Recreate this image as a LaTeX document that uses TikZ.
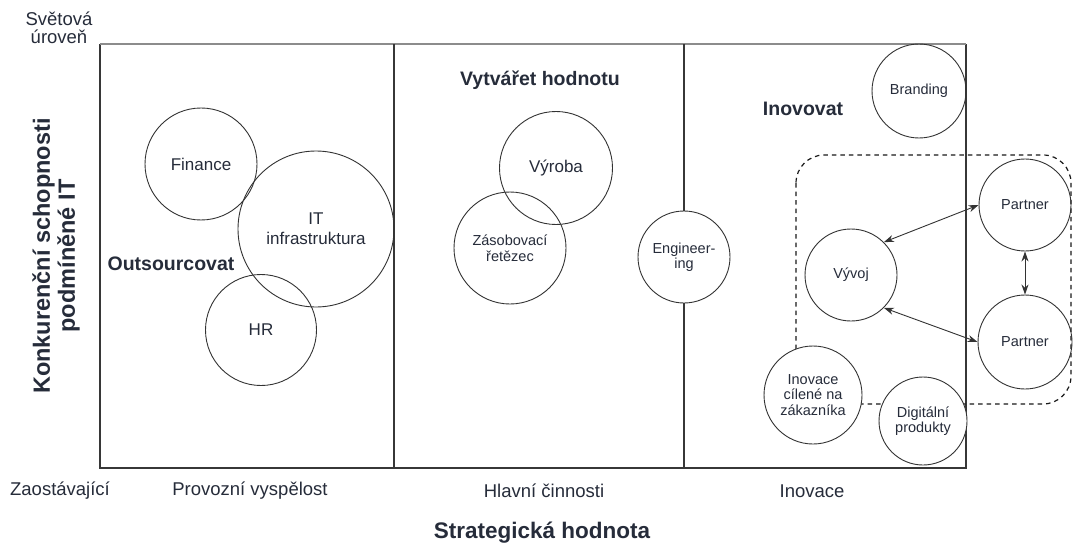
\documentclass[tikz,border=0pt]{standalone}
\usepackage{fontspec}
\setmainfont{Liberation Sans}
\usepackage{tikz}
\usetikzlibrary{positioning,arrows.meta}
\definecolor{inkText}{RGB}{38,44,58}
\definecolor{frameGray}{RGB}{55,55,55}

\begin{document}
\begin{tikzpicture}[x=1pt, y=1pt,
  bubble/.style={draw=black!80, circle, line width=0.9pt, inner sep=0pt, align=center, text=inkText, font=\fontsize{17}{20}\selectfont},
  smallbubble/.style={bubble, font=\fontsize{14.5}{15.5}\selectfont},
  axislabel/.style={font=\fontsize{18.5}{21}\selectfont, text=inkText, align=center},
  zonelabel/.style={font=\fontsize{19.5}{22}\selectfont\bfseries, text=inkText},
  titlelabel/.style={font=\fontsize{22.5}{25}\selectfont\bfseries, text=inkText, align=center},
  link/.style={<->, >={Stealth[length=10pt, width=7pt]}, line width=0.9pt, draw=black!80},
]

\fill[white] (0,0) rectangle (1075,-548);
\useasboundingbox (0,0) rectangle (1075,-548);

% ===================================================================
% FRAME with the three columns
% ===================================================================
\draw[line width=1.2pt, draw=frameGray] (100,-44) -- (100,-468) -- (966,-468) -- (966,-44);
\draw[line width=1.2pt, draw=black!45] (100,-44) -- (966,-44);
\foreach \xd in {394,684} {
  \draw[line width=1.1pt, draw=frameGray] (\xd,-44) -- (\xd,-468);
}

% Partner network (dashed)
\draw[dashed, dash pattern=on 4.5pt off 4pt, line width=1.2pt, draw=black!90, rounded corners=28pt]
  (796,-155) rectangle (1071,-404);

% ===================================================================
% AXES
% ===================================================================
\node[axislabel] (top) at (59,-28) {Světová\\[-3pt]úroveň};
\node[axislabel] (low) at (60,-491) {Zaostávající};
\node[axislabel] (colA) at (250,-491) {Provozní vyspělost};
\node[axislabel] (colB) at (544,-491) {Hlavní činnosti};
\node[axislabel] (colC) at (812,-491) {Inovace};
\node[titlelabel] (xaxis) at (542,-533) {Strategická hodnota};
\node[titlelabel, font=\fontsize{23.5}{25}\selectfont\bfseries, rotate=90] (yaxis) at (56,-256) {Konkurenční schopnosti\\podmíněné IT};

% ===================================================================
% COLUMN 1 -- outsourcing
% ===================================================================
\node[zonelabel] (outs) at (171,-264) {Outsourcovat};
\node[bubble, minimum size=112] (finance) at (201,-164) {Finance};
\node[bubble, minimum size=156] (infra) at (316,-229) {IT\\infrastruktura};
\node[bubble, minimum size=111] (hr) at (261,-330) {HR};

% ===================================================================
% COLUMN 2 -- core activities
% ===================================================================
\node[zonelabel] (value) at (540,-80) {Vytvářet hodnotu};
\node[bubble, minimum size=113] (vyroba) at (556,-168) {Výroba};
\node[smallbubble, minimum size=112] (supply) at (510,-248) {Zásobovací\\řetězec};
\node[smallbubble, minimum size=92, fill=white] (eng) at (684,-257) {Engineer-\\ing};

% ===================================================================
% COLUMN 3 -- innovation
% ===================================================================
\node[zonelabel] (innov) at (803,-109) {Inovovat};
\node[smallbubble, minimum size=94] (brand) at (919,-91) {Branding};
\node[smallbubble, minimum size=92] (vyvoj) at (851,-275) {Vývoj};
\node[smallbubble, minimum size=92] (partnerA) at (1025,-205) {Partner};
\node[smallbubble, minimum size=94] (partnerB) at (1025,-342) {Partner};
\node[smallbubble, minimum size=98, fill=white] (custom) at (813,-395) {Inovace\\cílené na\\zákazníka};
\node[smallbubble, minimum size=88, fill=white] (digital) at (923,-421) {Digitální\\produkty};

\draw[link] (vyvoj.north east) -- (partnerA.west);
\draw[link] (vyvoj.south east) -- (partnerB.west);
\draw[link] (partnerA.south) -- (partnerB.north);

\end{tikzpicture}
\end{document}
